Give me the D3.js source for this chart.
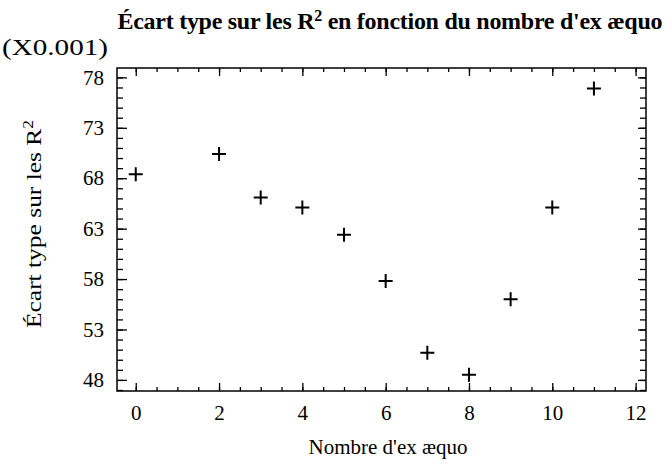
<!DOCTYPE html>
<html>
<head>
<meta charset="utf-8">
<script src="https://cdn.jsdelivr.net/npm/d3@7"></script>
<style>
  body { margin: 0; background: #fff; }
  svg { display: block; font-family: "Liberation Serif", "Times New Roman", serif; }
</style>
</head>
<body>
<svg id="chart" width="668" height="465"></svg>
<script>
// nombre d'ex aequo et ecart type (en unites de 0.001)
var exAequo = [0, 2, 3, 4, 5, 6, 7, 8, 9, 10, 11];
var ecartType = [68.4, 70.4, 66.1, 65.1, 62.4, 57.8, 50.7, 48.5, 56.0, 65.1, 76.9];
var xTicks = [0, 2, 4, 6, 8, 10, 12];
var yTicks = [48, 53, 58, 63, 68, 73, 78];

var svg = d3.select("#chart"),
    box = {left: 117, right: 646, top: 68, bottom: 391};

var x = d3.scaleLinear().domain([-0.45, 12.25]).range([box.left, box.right]);
var y = d3.scaleLinear().domain([46.9, 78.93]).range([box.bottom, box.top]);

var xMinor = d3.range(0, 12.01, 0.5),
    yMinor = d3.range(47, 78.5, 1);

// cadre
svg.append("rect")
    .attr("x", box.left).attr("y", box.top)
    .attr("width", box.right - box.left).attr("height", box.bottom - box.top)
    .attr("fill", "none").attr("stroke", "#000").attr("stroke-width", 1.5);

function axisStyle(g) {
  g.select(".domain").remove();
  g.selectAll(".tick line").attr("stroke", "#000").attr("stroke-width", 1.3);
  g.selectAll("text").attr("fill", "#000").attr("font-size", 21)
      .attr("font-family", "Liberation Serif, serif");
}

// graduations bas + haut
svg.append("g").attr("transform", "translate(0," + box.bottom + ")")
    .call(d3.axisBottom(x).tickValues(xMinor).tickSize(-4).tickFormat(""))
    .call(axisStyle);
svg.append("g").attr("transform", "translate(0," + box.bottom + ")")
    .call(d3.axisBottom(x).tickValues(xTicks).tickSizeInner(-8).tickSizeOuter(0).tickPadding(14))
    .call(axisStyle);
svg.append("g").attr("transform", "translate(0," + box.top + ")")
    .call(d3.axisTop(x).tickValues(xMinor).tickSize(-4).tickFormat(""))
    .call(axisStyle);
svg.append("g").attr("transform", "translate(0," + box.top + ")")
    .call(d3.axisTop(x).tickValues(xTicks).tickSize(-8).tickFormat(""))
    .call(axisStyle);

// graduations gauche + droite
svg.append("g").attr("transform", "translate(" + box.left + ",0)")
    .call(d3.axisLeft(y).tickValues(yMinor).tickSize(-6).tickFormat(""))
    .call(axisStyle);
svg.append("g").attr("transform", "translate(" + box.left + ",0)")
    .call(d3.axisLeft(y).tickValues(yTicks).tickSizeInner(-10).tickSizeOuter(0).tickPadding(13))
    .call(axisStyle);
svg.append("g").attr("transform", "translate(" + box.right + ",0)")
    .call(d3.axisRight(y).tickValues(yMinor).tickSize(-6).tickFormat(""))
    .call(axisStyle);
svg.append("g").attr("transform", "translate(" + box.right + ",0)")
    .call(d3.axisRight(y).tickValues(yTicks).tickSize(-8).tickFormat(""))
    .call(axisStyle);

// points (croix)
var pts = d3.zip(exAequo, ecartType);
svg.append("g").selectAll("path")
    .data(pts)
  .enter().append("path")
    .attr("transform", function(d) { return "translate(" + x(d[0]) + "," + y(d[1]) + ")"; })
    .attr("d", "M-7,0H7M0,-7V7")
    .attr("stroke", "#000")
    .attr("stroke-width", 2)
    .attr("fill", "none");

// titre
var title = svg.append("text")
    .attr("x", 390).attr("y", 29)
    .attr("text-anchor", "middle")
    .attr("font-size", 24).attr("font-weight", "bold")
    .attr("textLength", 545).attr("lengthAdjust", "spacing");
title.append("tspan").text("Écart type sur les R");
title.append("tspan").attr("font-size", 16).attr("dy", -8).text("2");
title.append("tspan").attr("dy", 8).text(" en fonction du nombre d'ex æquo");

svg.append("text")
    .attr("x", 2).attr("y", 55)
    .attr("font-size", 24)
    .attr("textLength", 106).attr("lengthAdjust", "spacingAndGlyphs")
    .text("(X0.001)");

svg.append("text")
    .attr("x", 388).attr("y", 454)
    .attr("text-anchor", "middle")
    .attr("font-size", 21)
    .text("Nombre d'ex æquo");

var yl = svg.append("text")
    .attr("transform", "translate(41,224) rotate(-90)")
    .attr("text-anchor", "middle")
    .attr("font-size", 22)
    .attr("textLength", 208).attr("lengthAdjust", "spacingAndGlyphs");
yl.append("tspan").text("Écart type sur les R");
yl.append("tspan").attr("font-size", 15).attr("dy", -8).text("2");
</script>
</body>
</html>
